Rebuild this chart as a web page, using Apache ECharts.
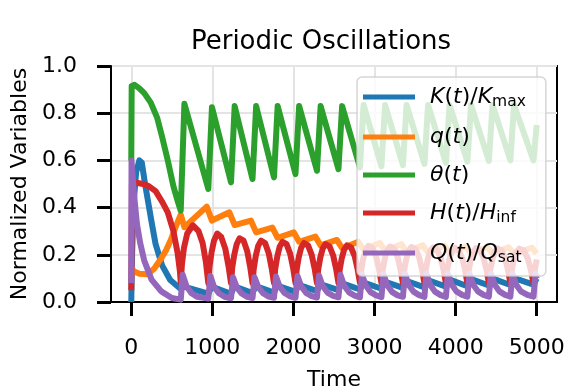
<!DOCTYPE html>
<html>
<head>
<meta charset="utf-8">
<script src="https://cdn.jsdelivr.net/npm/echarts@6/dist/echarts.min.js"></script>
<style>
  html, body { margin: 0; padding: 0; background: #fff; }
  #chart { width: 571px; height: 388px; }
</style>
</head>
<body>
<div id="chart"></div>
<script>
const colors = {
  K: "#1f77b4",
  q: "#ff7f0e",
  theta: "#2ca02c",
  H: "#d62728",
  Q: "#9467bd",
};

const xTicks = [0, 1000, 2000, 3000, 4000, 5000];

// [time, value]
const kData = [
  [0, 0], [10, 0.2], [30, 0.42], [60, 0.55], [100, 0.6], [130, 0.59], [170, 0.5], [205, 0.43],
  [250, 0.34], [300, 0.245], [380, 0.155], [480, 0.093], [610, 0.055],
  [650, 0.065], [950, 0.035], [990, 0.065], [1230, 0.035], [1270, 0.066], [1495, 0.038],
  [1535, 0.068], [1760, 0.04], [1800, 0.07], [2025, 0.043], [2065, 0.073], [2290, 0.046],
  [2330, 0.076], [2555, 0.05], [2595, 0.08], [2820, 0.053], [2860, 0.083], [3085, 0.056],
  [3125, 0.086], [3350, 0.06], [3390, 0.09], [3615, 0.062], [3655, 0.093], [3880, 0.065],
  [3920, 0.096], [4145, 0.067], [4185, 0.098], [4410, 0.07], [4450, 0.1], [4675, 0.072],
  [4715, 0.102], [4960, 0.074], [5000, 0.1],
];

const qData = [
  [0, 0.15], [30, 0.13], [100, 0.12], [200, 0.118], [280, 0.14], [360, 0.18], [430, 0.22],
  [490, 0.265], [550, 0.32], [610, 0.37],
  [655, 0.317], [930, 0.404], [995, 0.345], [1210, 0.38], [1275, 0.326], [1475, 0.345],
  [1540, 0.295], [1740, 0.315], [1805, 0.272], [2005, 0.295], [2070, 0.255], [2270, 0.277],
  [2335, 0.24], [2535, 0.263], [2600, 0.228], [2800, 0.255], [2865, 0.222], [3065, 0.25],
  [3130, 0.217], [3330, 0.245], [3395, 0.213], [3595, 0.24], [3660, 0.21], [3860, 0.238],
  [3925, 0.208], [4125, 0.235], [4190, 0.206], [4390, 0.233], [4455, 0.205], [4655, 0.232],
  [4720, 0.204], [4940, 0.23], [5000, 0.205],
];

const thetaData = [
  [0, 0.6], [5, 0.915], [40, 0.92], [100, 0.905], [160, 0.885], [240, 0.845], [320, 0.78],
  [380, 0.7], [450, 0.6], [520, 0.49], [570, 0.43], [610, 0.387],
  [655, 0.84], [950, 0.479], [995, 0.825], [1230, 0.507], [1275, 0.83], [1495, 0.521],
  [1540, 0.83], [1760, 0.528], [1805, 0.83], [2025, 0.542], [2070, 0.83], [2290, 0.556],
  [2335, 0.83], [2555, 0.563], [2600, 0.83], [2820, 0.57], [2865, 0.835], [3085, 0.575],
  [3130, 0.835], [3350, 0.58], [3395, 0.835], [3615, 0.585], [3660, 0.835], [3880, 0.59],
  [3925, 0.835], [4145, 0.595], [4190, 0.835], [4410, 0.598], [4455, 0.835], [4675, 0.6],
  [4720, 0.835], [4960, 0.6], [5000, 0.75],
];

const hData = [
  [0, 0.05], [8, 0.5], [60, 0.505], [150, 0.5], [220, 0.49], [300, 0.47], [380, 0.425],
  [450, 0.38], [520, 0.3], [570, 0.21], [600, 0.13], [610, 0.085],
  [625, 0.16], [650, 0.23], [690, 0.29], [760, 0.325], [830, 0.3], [880, 0.25], [920, 0.17], [950, 0.08],
  [965, 0.15], [990, 0.21], [1020, 0.26], [1060, 0.29], [1110, 0.275], [1160, 0.225], [1200, 0.15], [1230, 0.08],
  [1245, 0.145], [1270, 0.2], [1300, 0.245], [1335, 0.27], [1385, 0.26], [1430, 0.215], [1468, 0.145], [1495, 0.08],
  [1510, 0.14], [1535, 0.195], [1565, 0.238], [1600, 0.26], [1650, 0.25], [1695, 0.207], [1733, 0.14], [1760, 0.08],
  [1775, 0.14], [1800, 0.192], [1830, 0.234], [1865, 0.255], [1915, 0.245], [1960, 0.204], [1998, 0.14], [2025, 0.08],
  [2040, 0.138], [2065, 0.19], [2095, 0.23], [2130, 0.25], [2180, 0.24], [2225, 0.2], [2263, 0.138], [2290, 0.08],
  [2305, 0.137], [2330, 0.187], [2360, 0.226], [2395, 0.245], [2445, 0.236], [2490, 0.197], [2528, 0.137], [2555, 0.08],
  [2570, 0.136], [2595, 0.184], [2625, 0.222], [2660, 0.24], [2710, 0.231], [2755, 0.194], [2793, 0.136], [2820, 0.08],
  [2835, 0.135], [2860, 0.183], [2890, 0.22], [2925, 0.238], [2975, 0.229], [3020, 0.192], [3058, 0.135], [3085, 0.08],
  [3100, 0.134], [3125, 0.181], [3155, 0.218], [3190, 0.235], [3240, 0.227], [3285, 0.19], [3323, 0.134], [3350, 0.08],
  [3365, 0.134], [3390, 0.18], [3420, 0.216], [3455, 0.233], [3505, 0.225], [3550, 0.189], [3588, 0.134], [3615, 0.08],
  [3630, 0.133], [3655, 0.179], [3685, 0.214], [3720, 0.231], [3770, 0.223], [3815, 0.188], [3853, 0.133], [3880, 0.08],
  [3895, 0.133], [3920, 0.178], [3950, 0.213], [3985, 0.23], [4035, 0.222], [4080, 0.187], [4118, 0.133], [4145, 0.08],
  [4160, 0.132], [4185, 0.177], [4215, 0.212], [4250, 0.228], [4300, 0.22], [4345, 0.186], [4383, 0.132], [4410, 0.08],
  [4425, 0.132], [4450, 0.176], [4480, 0.211], [4515, 0.227], [4565, 0.219], [4610, 0.185], [4648, 0.132], [4675, 0.08],
  [4690, 0.132], [4715, 0.176], [4745, 0.21], [4785, 0.226], [4840, 0.218], [4890, 0.184], [4930, 0.132], [4960, 0.08],
  [4975, 0.131], [5000, 0.18],
];

const capQData = [
  [0, 0.08], [3, 0.6], [30, 0.47], [70, 0.33], [110, 0.25], [160, 0.175], [250, 0.095],
  [370, 0.045], [500, 0.017], [610, 0.01],
  [635, 0.115], [680, 0.068], [740, 0.038], [810, 0.022],
  [950, 0.015], [975, 0.11], [1020, 0.065], [1080, 0.037], [1150, 0.022],
  [1230, 0.016], [1255, 0.105], [1300, 0.063], [1360, 0.036], [1430, 0.022],
  [1495, 0.017], [1520, 0.105], [1565, 0.064], [1625, 0.037], [1695, 0.023],
  [1760, 0.018], [1785, 0.108], [1830, 0.066], [1890, 0.038], [1960, 0.024],
  [2025, 0.018], [2050, 0.11], [2095, 0.067], [2155, 0.039], [2225, 0.025],
  [2290, 0.019], [2315, 0.112], [2360, 0.068], [2420, 0.04], [2490, 0.026],
  [2555, 0.02], [2580, 0.115], [2625, 0.07], [2685, 0.041], [2755, 0.027],
  [2820, 0.02], [2845, 0.117], [2890, 0.071], [2950, 0.042], [3020, 0.028],
  [3085, 0.021], [3110, 0.118], [3155, 0.072], [3215, 0.043], [3285, 0.028],
  [3350, 0.022], [3375, 0.12], [3420, 0.073], [3480, 0.044], [3550, 0.029],
  [3615, 0.022], [3640, 0.12], [3685, 0.073], [3745, 0.044], [3815, 0.029],
  [3880, 0.022], [3905, 0.12], [3950, 0.074], [4010, 0.045], [4080, 0.03],
  [4145, 0.023], [4170, 0.12], [4215, 0.074], [4275, 0.045], [4345, 0.03],
  [4410, 0.023], [4435, 0.12], [4480, 0.074], [4540, 0.045], [4610, 0.03],
  [4675, 0.023], [4700, 0.12], [4745, 0.074], [4805, 0.045], [4885, 0.03],
  [4960, 0.023], [4985, 0.12], [5000, 0.1],
];

const seriesList = [
  { name: "K", data: kData, color: colors.K, label: "{i|K}{n|(}{i|t}{n|)/}{i|K}{s|max}" },
  { name: "q", data: qData, color: colors.q, label: "{i|q}{n|(}{i|t}{n|)}" },
  { name: "theta", data: thetaData, color: colors.theta, label: "{i|θ}{n|(}{i|t}{n|)}" },
  { name: "H", data: hData, color: colors.H, label: "{i|H}{n|(}{i|t}{n|)/}{i|H}{s|inf}" },
  { name: "Q", data: capQData, color: colors.Q, label: "{i|Q}{n|(}{i|t}{n|)/}{i|Q}{s|sat}" },
];

const font = "DejaVu Sans";
const chart = echarts.init(document.getElementById("chart"));

const options = {
  animation: false,
  title: {
    text: "Periodic Oscillations",
    left: 316,
    textAlign: "center",
    top: 24,
    textStyle: { fontFamily: font, fontSize: 26, fontWeight: "normal", color: "#000" },
  },
  grid: {
    left: 111,
    right: 14,
    top: 66,
    bottom: 86,
    show: true,
    borderColor: "#000",
    borderWidth: 2,
    outerBoundsMode: "none",
  },
  legend: {
    orient: "vertical",
    left: 357,
    top: 77,
    padding: [9, 20, 10, 6],
    itemGap: 16,
    itemWidth: 52,
    itemHeight: 5,
    icon: "rect",
    backgroundColor: "rgba(255,255,255,0.8)",
    borderColor: "rgba(204,204,204,0.8)",
    borderWidth: 1.5,
    borderRadius: 5,
    data: seriesList.map((s) => s.name),
    formatter: (name) => seriesList.find((s) => s.name === name).label,
    textStyle: {
      padding: [0, 0, 0, 10],
      rich: {
        n: { fontFamily: font, fontSize: 22, color: "#000", lineHeight: 26 },
        i: { fontFamily: font, fontSize: 22, fontStyle: "italic", color: "#000", lineHeight: 26 },
        s: { fontFamily: font, fontSize: 15.5, color: "#000", lineHeight: 12, verticalAlign: "bottom" },
      },
    },
  },
  xAxis: {
    type: "value",
    min: -250,
    max: 5250,
    name: "Time",
    nameLocation: "middle",
    nameGap: 67,
    nameTextStyle: { fontFamily: font, fontSize: 22, color: "#000" },
    axisLine: { onZero: false, lineStyle: { color: "#000", width: 2 } },
    axisTick: { customValues: xTicks, inside: false, length: 14, lineStyle: { color: "#000", width: 3 } },
    axisLabel: {
      customValues: xTicks,
      margin: 35,
      fontFamily: font,
      fontSize: 22,
      color: "#000",
      formatter: (v) => String(v),
    },
    splitLine: { show: true, lineStyle: { color: "#e4e4e4", width: 2 } },
  },
  yAxis: {
    type: "value",
    min: 0,
    max: 1,
    interval: 0.2,
    name: "Normalized Variables",
    nameLocation: "middle",
    nameRotate: 90,
    nameGap: 80,
    nameTextStyle: { fontFamily: font, fontSize: 22, color: "#000" },
    axisLine: { onZero: false, lineStyle: { color: "#000", width: 2 } },
    axisTick: { inside: false, length: 14, lineStyle: { color: "#000", width: 3 } },
    axisLabel: {
      margin: 34,
      fontFamily: font,
      fontSize: 22,
      color: "#000",
      formatter: (v) => v.toFixed(1),
    },
    splitLine: { show: true, lineStyle: { color: "#e4e4e4", width: 2 } },
  },
  series: seriesList.map((s) => ({
    name: s.name,
    type: "line",
    data: s.data,
    symbol: "none",
    color: s.color,
    lineStyle: { color: s.color, width: 6, join: "round" },
  })),
};

chart.setOption(options);
</script>
</body>
</html>
